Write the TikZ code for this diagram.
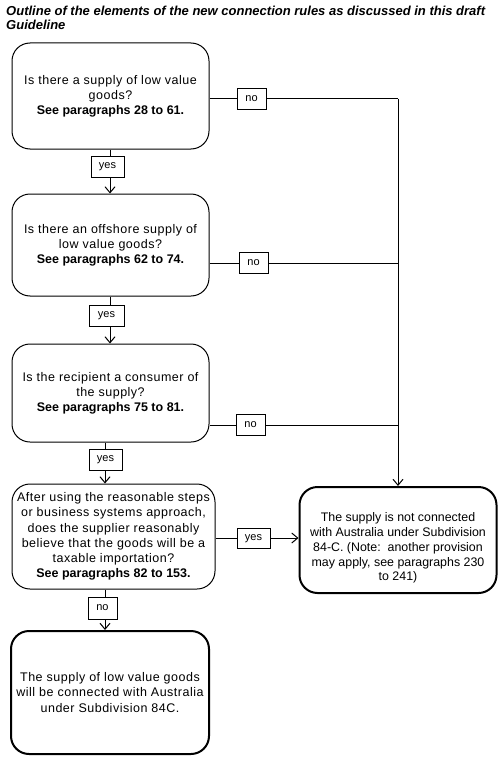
\documentclass[tikz,border=0pt]{standalone}
\usepackage{fontspec}
\setmainfont{Liberation Sans}[LetterSpace=4, BoldFeatures={LetterSpace=0}, BoldItalicFeatures={LetterSpace=0}]
\newfontfamily\plainfont{Liberation Sans}
\usetikzlibrary{arrows.meta}
\begin{document}
\begin{tikzpicture}[x=1pt,y=-1pt,
  txt/.style={font=\fontsize{12.5}{15.2}\selectfont, align=center, inner sep=0pt},
  qbox/.style={draw, line width=1pt, rounded corners=18pt, txt},
  endbox/.style={draw, line width=2pt, rounded corners=18pt, txt},
  lbl/.style={draw, line width=1pt, fill=white, font=\plainfont\fontsize{11}{13}\selectfont, inner sep=0pt},
  conn/.style={line width=1pt},
  arr/.style={line width=1pt, -{Straight Barb[length=6pt,width=10pt,line width=1pt]}}]
\useasboundingbox (0,0) rectangle (500,757);
\node[anchor=north west, inner sep=0pt, align=left, font=\fontsize{13}{14}\selectfont\bfseries\itshape] (title) at (6,6)
  {Outline of the elements of the new connection rules as discussed in this draft\\Guideline};

\node[qbox, minimum width=197, minimum height=106] (b1) at (110.5,96)
  {Is there a supply of low value\\goods?\\\textbf{See paragraphs 28 to 61.}};
\node[qbox, minimum width=197, minimum height=102] (b2) at (110.5,245)
  {Is there an offshore supply of\\low value goods?\\\textbf{See paragraphs 62 to 74.}};
\node[qbox, minimum width=197, minimum height=98] (b3) at (110.5,393)
  {Is the recipient a consumer of\\the supply?\\\textbf{See paragraphs 75 to 81.}};
\node[qbox, minimum width=203, minimum height=105] (b4) at (113.5,536.5)
  {After using the reasonable steps\\or business systems approach,\\does the supplier reasonably\\believe that the goods will be a\\taxable importation?\\\textbf{See paragraphs 82 to 153.}};
\node[endbox, minimum width=197, minimum height=106] (b5) at (398,540) {};
\node[txt, font=\plainfont\fontsize{12.4}{14.8}\selectfont] (t5) at (398,548)
  {The supply is not connected\\with Australia under Subdivision\\84-C. (Note:\ \ another provision\\may apply, see paragraphs 230\\to 241)};
\node[endbox, minimum width=198, minimum height=123] (b6) at (110,692.5)
  {The supply of low value goods\\will be connected with Australia\\under Subdivision 84C.};

% positions of the vertical connectors
\coordinate (c1) at (110,0);
\coordinate (c3) at (105,0);

% no branches to the right
\draw[conn] (b1.east |- 0,99) -- (b5.north |- 0,99);
\draw[arr] (b5.north |- 0,99) -- (b5.north);
\draw[conn] (b2.east |- 0,263) -- (b5.north |- 0,263);
\draw[conn] (b3.east |- 0,425) -- (b5.north |- 0,425);
% yes down
\draw[arr] (c1 |- b1.south) -- (c1 |- b2.north);
\draw[arr] (c1 |- b2.south) -- (c1 |- b3.north);
\draw[arr] (c3 |- b3.south) -- (c3 |- b4.north);
\draw[arr] (c3 |- b4.south) -- (c3 |- b6.north);
\draw[arr] (b4.east |- 0,538) -- (b5.west |- 0,538);

\node[lbl, minimum width=29, minimum height=21] (no1) at (251.5,99) {no};
\node[lbl, minimum width=33, minimum height=21] (yes1) at (107.5,166.5) {yes};
\node[lbl, minimum width=29, minimum height=21] (no2) at (253.5,263) {no};
\node[lbl, minimum width=35, minimum height=21] (yes2) at (106.5,315.5) {yes};
\node[lbl, minimum width=29, minimum height=21] (no3) at (250.5,425) {no};
\node[lbl, minimum width=33, minimum height=21] (yes3) at (105.5,459.5) {yes};
\node[lbl, minimum width=33, minimum height=20] (yes4) at (253.5,538.5) {yes};
\node[lbl, minimum width=29, minimum height=22] (no4) at (102.5,608) {no};
\end{tikzpicture}
\end{document}
